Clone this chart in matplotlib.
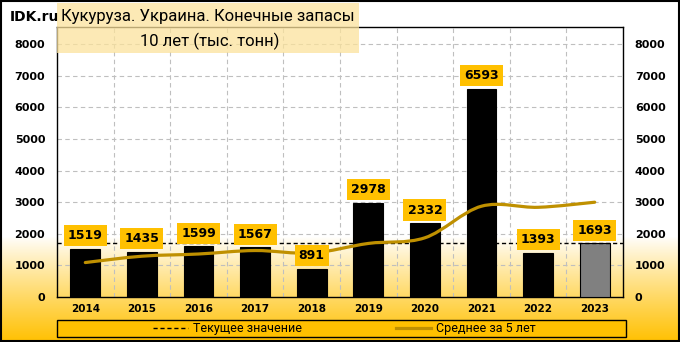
import numpy as np
import matplotlib.pyplot as plt
from matplotlib.path import Path
from matplotlib.patches import PathPatch, Rectangle
from matplotlib.lines import Line2D

years = ['2014', '2015', '2016', '2017', '2018', '2019', '2020', '2021', '2022', '2023']
stocks = [1519, 1435, 1599, 1567, 891, 2978, 2332, 6593, 1393, 1693]
avg5 = [1090, 1290, 1360, 1470, 1390, 1694, 1873, 2872, 2837, 2998]
current = 1693
yticks = [0, 1000, 2000, 3000, 4000, 5000, 6000, 7000, 8000]

W, H = 680, 342
fig = plt.figure(figsize=(W / 100, H / 100), dpi=100)

# background gradient: white on top, orange-yellow at the bottom
bg = fig.add_axes([0, 0, 1, 1], zorder=-10)
rows = np.arange(H)
t = np.clip((rows - 236) / (H - 236), 0, 1) ** 0.9
img = np.ones((H, 1, 3))
img[:, 0, 1] = 1 - t * (1 - 192 / 255)
img[:, 0, 2] = 1 - t
bg.imshow(img, aspect='auto', extent=(0, 1, 0, 1))
bg.set_axis_off()
fig.patches.append(Rectangle((0.001, 0.002), 0.997, 0.995, transform=fig.transFigure,
                             fill=False, ec='black', lw=1.5, zorder=5))

ax = fig.add_axes([57 / W, 1 - 297 / H, 566 / W, 270 / H])
ax.patch.set_alpha(0)
x = np.arange(len(years))
colors = ['black'] * (len(years) - 1) + ['#808080']
ax.bar(x, stocks, width=0.53, color=colors, edgecolor='black', linewidth=0.8, zorder=3)

ax.axhline(current, color='black', lw=1, ls=(0, (3, 2)), zorder=4)

# smoothed 5-year average line (catmull-rom as bezier)
pts = np.column_stack([x, avg5]).astype(float)
verts = [pts[0]]
codes = [Path.MOVETO]
n = len(pts)
for i in range(n - 1):
    p0 = pts[max(i - 1, 0)]
    p1 = pts[i]
    p2 = pts[i + 1]
    p3 = pts[min(i + 2, n - 1)]
    verts += [p1 + (p2 - p0) / 6, p2 - (p3 - p1) / 6, p2]
    codes += [Path.CURVE4] * 3
ax.add_patch(PathPatch(Path(verts, codes), fill=False, ec='#BF9000', lw=2.3,
                       capstyle='round', zorder=5))

for xi, v in zip(x, stocks):
    ax.annotate(str(v), (xi, v), xytext=(0, 9.5), textcoords='offset points',
                ha='center', va='center', fontsize=9, fontweight='bold', zorder=6,
                bbox=dict(boxstyle='square,pad=0.33', fc='#FFC000', ec='none'))

ax.set_xlim(-0.5, len(years) - 0.5)
ax.set_ylim(0, 8540)
ax.set_yticks(yticks)
ax.set_yticklabels([str(v) for v in yticks])
ax.set_xticks(x)
ax.set_xticklabels(years)
ax.tick_params(axis='y', length=0, pad=8.5, labelsize=8, labelright=True)
ax.tick_params(axis='x', length=0, pad=5, labelsize=7.5)
for lab in ax.get_xticklabels() + ax.get_yticklabels():
    lab.set_fontweight('bold')
for lab in ax.yaxis.get_ticklabels():
    lab.set_fontweight('bold')
ax.set_xticks(np.arange(0.5, len(years) - 1, 1), minor=True)
ax.tick_params(axis='x', which='minor', length=0)
ax.grid(True, axis='y', color='#BFBFBF', ls=(0, (4, 3)), lw=0.8, zorder=0)
ax.grid(True, axis='x', which='minor', color='#BFBFBF', ls=(0, (4, 3)), lw=0.8, zorder=0)
for s in ax.spines.values():
    s.set_color('black')
    s.set_linewidth(1)

# title block
fig.patches.append(Rectangle((57 / W, 1 - 53 / H), 302 / W, 50 / H, transform=fig.transFigure,
                             fc='#FBE29C', alpha=0.75, ec='none', zorder=10))
fig.text(10 / W, 1 - 17 / H, 'IDK.ru', fontsize=10, fontweight='bold', va='center', ha='left')
fig.text(61 / W, 1 - 17 / H, 'Кукуруза. Украина. Конечные запасы', fontsize=12,
         family='Roboto', va='center', ha='left', zorder=11)
fig.text(210 / W, 1 - 41 / H, '10 лет (тыс. тонн)', fontsize=12,
         family='Roboto', va='center', ha='center', zorder=11)

# legend block
fig.patches.append(Rectangle((57 / W, 1 - 337 / H), 569 / W, 17 / H, transform=fig.transFigure,
                             fc='#FFC000', ec='black', lw=1, zorder=1))
handles = [Line2D([], [], color='black', lw=1, ls=(0, (3, 2))),
           Line2D([], [], color='#BF9000', lw=2.3)]
leg = fig.legend(handles, ['Текущее значение', 'Среднее за 5 лет'], loc='center',
                 bbox_to_anchor=(344 / W, 1 - 328.5 / H), ncol=2, frameon=False,
                 prop={'family': 'Roboto', 'size': 9}, handlelength=2.8,
                 handletextpad=0.4, columnspacing=7.5)
leg.set_zorder(12)

fig.savefig('out.png', dpi=100)
